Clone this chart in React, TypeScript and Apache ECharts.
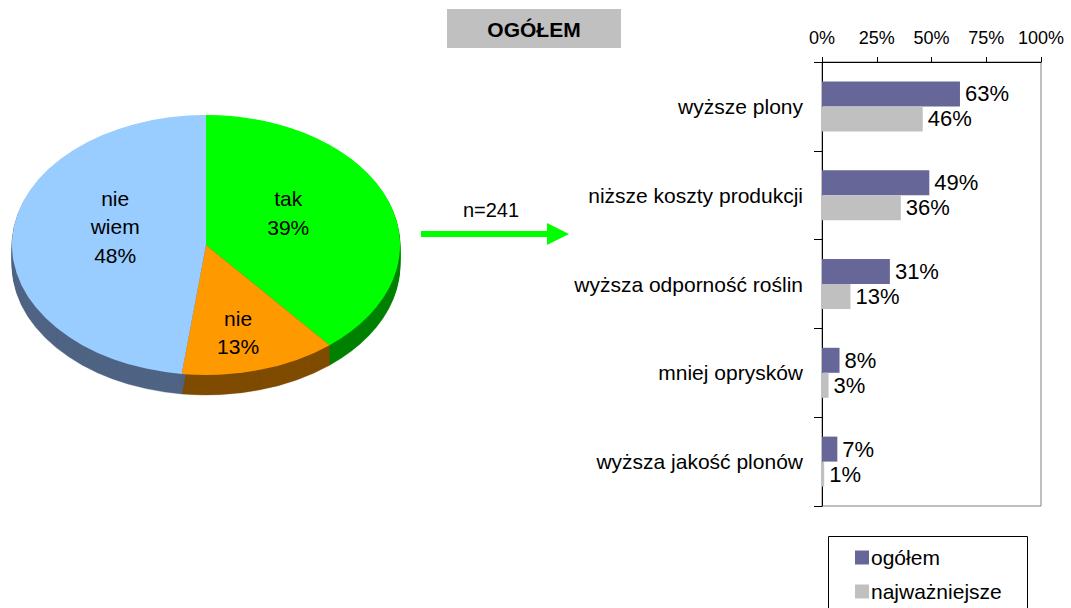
import React, { useEffect, useRef } from "react";
import * as echarts from "echarts";

// ---- data ----
const PIE_NAMES = ["tak", "nie", "nie\nwiem"];
const PIE_VALUES = [39, 13, 48];

const CATEGORIES = [
  "wyższe plony",
  "niższe koszty produkcji",
  "wyższa odporność roślin",
  "mniej oprysków",
  "wyższa jakość plonów",
];
const SERIES_NAMES = ["ogółem", "najważniejsze"];
const OGOLEM = [63, 49, 31, 8, 7];
const NAJWAZNIEJSZE = [46, 36, 13, 3, 1];
const X_TICKS = [0, 25, 50, 75, 100];
const TITLE = "OGÓŁEM";
const N_LABEL = "n=241";

// ---- layout / style ----
const FONT = "'Liberation Sans', Arial, sans-serif";
const PIE_TOP = ["#00ff00", "#ff9900", "#99ccff"];
const PIE_SIDE = ["#008000", "#7f4c00", "#4f6484"];
const CX = 206, CY = 245, RX = 194, RY = 130, DEPTH = 20;
const LABEL_NUDGE = [[-9, -10], [5, 25], [6, -14]];
const LEGEND_TOPS = [547, 581];

export default function App() {
  const ref = useRef<HTMLDivElement>(null);
  useEffect(() => {
    if (!ref.current) return;
    const chart = echarts.init(ref.current, null, { renderer: "svg" });
    const total = PIE_VALUES.reduce((a, b) => a + b, 0);
    const cum: number[] = [];
    PIE_VALUES.reduce((acc, v, i) => { cum[i] = acc; return acc + v; }, 0);

    const option: any = {
      animation: false,
      textStyle: { fontFamily: FONT },
      grid: {
        left: 822, right: 30, top: 62, bottom: 102,
        show: true, borderColor: "#808080", borderWidth: 1, backgroundColor: "transparent",
      },
      legend: SERIES_NAMES.map((name, i) => ({
        orient: "vertical",
        left: 855, top: LEGEND_TOPS[i],
        data: [name],
        icon: "rect",
        itemWidth: 14, itemHeight: 14, itemGap: 0,
        padding: 0,
        textStyle: { fontSize: 21, color: "#000", fontFamily: FONT, lineHeight: 14, padding: [0, 0, 0, -3] },
      })),
      xAxis: {
        type: "value", position: "top",
        min: X_TICKS[0], max: X_TICKS[X_TICKS.length - 1], interval: X_TICKS[1] - X_TICKS[0],
        axisLine: { show: true, lineStyle: { color: "#000" } },
        axisTick: { show: true, length: 5, lineStyle: { color: "#000" } },
        axisLabel: { formatter: "{value}%", fontSize: 18, color: "#000", margin: 15, fontFamily: FONT },
        splitLine: { show: false },
      },
      yAxis: {
        type: "category", inverse: true, data: CATEGORIES,
        axisLine: { show: true, lineStyle: { color: "#000" } },
        axisTick: { show: true, length: 8, lineStyle: { color: "#000" } },
        axisLabel: { fontSize: 21, color: "#000", margin: 19, fontFamily: FONT },
      },
      series: [
        {
          name: SERIES_NAMES[0], type: "bar", data: OGOLEM, barWidth: 25, barGap: "0%",
          itemStyle: { color: "#666699" },
          label: { show: true, position: "right", formatter: "{c}%", fontSize: 22, color: "#000", distance: 5, fontFamily: FONT },
        },
        {
          name: SERIES_NAMES[1], type: "bar", data: NAJWAZNIEJSZE, barWidth: 25, barGap: "0%",
          itemStyle: { color: "#c0c0c0" },
          label: { show: true, position: "right", formatter: "{c}%", fontSize: 22, color: "#000", distance: 5, fontFamily: FONT },
        },
        {
          name: "pie", type: "custom", coordinateSystem: "none",
          data: PIE_VALUES.map((v, i) => ({ value: v, name: PIE_NAMES[i] })),
          renderItem: (params: any, api: any) => {
            const i = params.dataIndex;
            const v = api.value(0);
            const start = -Math.PI / 2 + (cum[i] / total) * Math.PI * 2;
            const end = start + (v / total) * Math.PI * 2;
            const children: any[] = [];
            for (let d = DEPTH; d >= 1; d--) {
              children.push({
                type: "sector", x: CX, y: CY + d, scaleY: RY / RX, z2: 1,
                shape: { cx: 0, cy: 0, r: RX, r0: 0, startAngle: start, endAngle: end, clockwise: true },
                style: { fill: PIE_SIDE[i], stroke: PIE_SIDE[i], lineWidth: 0.5 },
              });
            }
            children.push({
              type: "sector", x: CX, y: CY, scaleY: RY / RX, z2: 10,
              shape: { cx: 0, cy: 0, r: RX, r0: 0, startAngle: start, endAngle: end, clockwise: true },
              style: { fill: PIE_TOP[i] },
            });
            const mid = (start + end) / 2;
            const lx = CX + 0.5 * RX * Math.cos(mid) + LABEL_NUDGE[i][0];
            const ly = CY + 0.5 * RY * Math.sin(mid) + LABEL_NUDGE[i][1];
            children.push({
              type: "text", x: lx, y: ly, z2: 20,
              style: {
                text: PIE_NAMES[i] + "\n" + v + "%",
                fontSize: 21, fontFamily: FONT, fill: "#000",
                align: "center", verticalAlign: "middle",
                textAlign: "center", textVerticalAlign: "middle",
                lineHeight: 28.5,
              },
            });
            return { type: "group", children };
          },
        },
      ],
      graphic: [
        { type: "rect", left: 447, top: 9, shape: { width: 174, height: 39 }, style: { fill: "#c0c0c0" } },
        {
          type: "text", x: 534, y: 29,
          style: { text: TITLE, fontSize: 21, fontWeight: "bold", fontFamily: FONT, fill: "#000", align: "center", verticalAlign: "middle", textAlign: "center", textVerticalAlign: "middle" },
        },
        { type: "line", shape: { x1: 421, y1: 234, x2: 552, y2: 234 }, style: { stroke: "#00ff00", lineWidth: 6 } },
        { type: "polygon", shape: { points: [[547, 223], [569, 234], [547, 245]] }, style: { fill: "#00ff00" } },
        {
          type: "text", x: 491, y: 210,
          style: { text: N_LABEL, fontSize: 20, fontFamily: FONT, fill: "#000", align: "center", verticalAlign: "middle", textAlign: "center", textVerticalAlign: "middle" },
        },
        {
          type: "rect", shape: { x: 828.5, y: 536.5, width: 199, height: 90 },
          style: { fill: "none", stroke: "#000", lineWidth: 1 }, z: -1,
        },
      ],
    };
    chart.setOption(option);
    return () => chart.dispose();
  }, []);
  return (
    <div
      ref={ref}
      style={{ position: "fixed", left: 0, top: 0, width: 1071, height: 608, background: "#fff" }}
    />
  );
}
